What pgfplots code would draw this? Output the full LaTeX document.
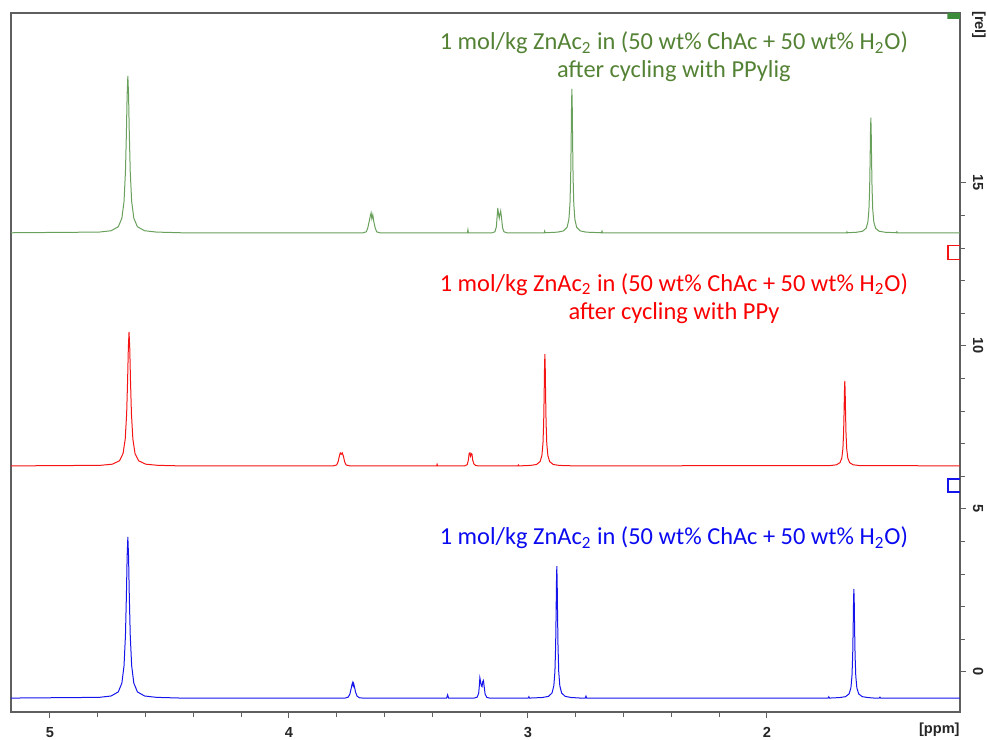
\documentclass[border=0pt]{standalone}
\usepackage{fontspec}
\setmainfont{Carlito}
\newfontfamily\tickfont{Liberation Sans}
\usepackage{pgfplots}
\pgfplotsset{compat=1.18}

\definecolor{spgreen}{RGB}{104,160,92}
\definecolor{txtgreen}{RGB}{84,130,53}
\definecolor{spred}{RGB}{245,20,20}
\definecolor{txtred}{RGB}{250,0,0}
\definecolor{spblue}{RGB}{20,20,235}
\definecolor{txtblue}{RGB}{10,10,240}
\definecolor{axgray}{RGB}{95,95,95}
\definecolor{mkgreen}{RGB}{60,140,60}

\begin{document}
\begin{tikzpicture}
\useasboundingbox (-5.5pt,-14pt) rectangle (488pt,356pt);
\begin{axis}[
  name=ax,
  at={(0,0)}, anchor=south west,
  scale only axis, width=474.5pt, height=349.5pt,
  x dir=reverse,
  xmin=1.192, xmax=5.163, ymin=-1.227, ymax=20.21,
  xtick={2,3,4,5}, ytick={0,5,10,15},
  minor x tick num=4, minor y tick num=4,
  xtick pos=left, ytick pos=right, yticklabel pos=right,
  tick align=outside,
  major tick length=3pt, minor tick length=2.5pt,
  axis line style={axgray, line width=0.6pt},
  tick style={axgray, line width=0.5pt},
  ticklabel style={font=\tickfont\bfseries\fontsize{7.3}{8}\selectfont, text=black!85},
  xticklabel style={yshift=-1pt},
  /pgf/number format/assume math mode=true,
  yticklabel style={rotate=-90, anchor=south},
  every axis plot/.append style={line width=0.5pt},
]

% 1 mol/kg ZnAc2 in (50 wt% ChAc + 50 wt% H2O)
\addplot[spblue] coordinates {
(5.165,-0.80)
(4.794,-0.778) (4.744,-0.736) (4.714,-0.610) (4.699,-0.341) (4.690,0.188) (4.684,1.127)
(4.680,2.362) (4.677,3.532) (4.674,4.14) (4.671,3.532) (4.668,2.362) (4.664,1.127)
(4.658,0.188) (4.649,-0.341) (4.634,-0.610) (4.604,-0.736) (4.554,-0.778)
(4.45,-0.80)
(3.765,-0.80) (3.752,-0.77) (3.745,-0.68) (3.740,-0.52) (3.736,-0.38) (3.733,-0.32)
(3.731,-0.42) (3.729,-0.36) (3.726,-0.45) (3.721,-0.62) (3.715,-0.74) (3.705,-0.79) (3.690,-0.80)
(3.340,-0.80) (3.336,-0.70) (3.332,-0.80)
(3.225,-0.80) (3.212,-0.77) (3.206,-0.65) (3.203,-0.40) (3.201,-0.18) (3.198,-0.30)
(3.195,-0.42) (3.192,-0.45) (3.189,-0.30) (3.186,-0.26) (3.183,-0.45) (3.179,-0.68)
(3.172,-0.78) (3.160,-0.80)
(2.999,-0.80) (2.996,-0.76) (2.993,-0.80)
(2.939,-0.782) (2.914,-0.748) (2.899,-0.644) (2.8915,-0.423) (2.887,0.01) (2.884,0.78)
(2.882,1.79) (2.8805,2.75) (2.879,3.25) (2.8775,2.75) (2.876,1.79) (2.874,0.78)
(2.871,0.01) (2.8665,-0.423) (2.859,-0.644) (2.844,-0.748) (2.819,-0.782)
(2.78,-0.80) (2.760,-0.80) (2.757,-0.74) (2.754,-0.80)
(1.744,-0.80) (1.741,-0.76) (1.738,-0.80)
(1.696,-0.785) (1.671,-0.757) (1.656,-0.671) (1.6485,-0.488) (1.644,-0.13) (1.641,0.507)
(1.639,1.344) (1.6375,2.138) (1.636,2.55) (1.6345,2.138) (1.633,1.344) (1.631,0.507)
(1.628,-0.13) (1.6235,-0.488) (1.616,-0.671) (1.601,-0.757) (1.576,-0.785)
(1.55,-0.80) (1.530,-0.80) (1.527,-0.77) (1.524,-0.80)
(1.192,-0.80)
};

% after cycling with PPy
\addplot[spred] coordinates {
(5.165,6.32)
(4.789,6.338) (4.739,6.373) (4.709,6.478) (4.694,6.702) (4.685,7.142) (4.679,7.923)
(4.675,8.950) (4.672,9.924) (4.669,10.43) (4.666,9.924) (4.663,8.950) (4.659,7.923)
(4.653,7.142) (4.644,6.702) (4.629,6.478) (4.599,6.373) (4.549,6.338)
(4.45,6.32)
(3.815,6.32) (3.800,6.35) (3.794,6.45) (3.789,6.62) (3.785,6.72) (3.781,6.68)
(3.777,6.72) (3.772,6.62) (3.767,6.45) (3.761,6.35) (3.745,6.32)
(3.382,6.32) (3.380,6.37) (3.378,6.32)
(3.265,6.32) (3.254,6.36) (3.249,6.50) (3.246,6.70) (3.243,6.72) (3.240,6.62)
(3.237,6.70) (3.234,6.68) (3.231,6.50) (3.226,6.38) (3.218,6.33) (3.205,6.32)
(3.042,6.32) (3.040,6.35) (3.038,6.32)
(2.989,6.335) (2.964,6.364) (2.949,6.452) (2.9415,6.639) (2.937,7.006) (2.934,7.658)
(2.932,8.515) (2.9305,9.328) (2.929,9.75) (2.9275,9.328) (2.926,8.515) (2.924,7.658)
(2.921,7.006) (2.9165,6.639) (2.909,6.452) (2.894,6.364) (2.869,6.335)
(2.80,6.32)
(1.734,6.332) (1.709,6.354) (1.694,6.421) (1.6865,6.563) (1.682,6.842) (1.679,7.338)
(1.677,7.990) (1.6755,8.609) (1.674,8.93) (1.6725,8.609) (1.671,7.990) (1.669,7.338)
(1.666,6.842) (1.6615,6.563) (1.654,6.421) (1.639,6.354) (1.614,6.332)
(1.192,6.32)
};

% after cycling with PPylig
\addplot[spgreen] coordinates {
(5.165,13.47)
(4.794,13.491) (4.744,13.532) (4.714,13.655) (4.699,13.917) (4.690,14.432) (4.684,15.346)
(4.680,16.548) (4.677,17.688) (4.674,18.28) (4.671,17.688) (4.668,16.548) (4.664,15.346)
(4.658,14.432) (4.649,13.917) (4.634,13.655) (4.604,13.532) (4.554,13.491)
(4.45,13.47)
(3.690,13.47) (3.676,13.50) (3.670,13.62) (3.664,13.82) (3.659,14.00) (3.656,14.08)
(3.653,13.90) (3.649,14.02) (3.645,13.82) (3.639,13.62) (3.633,13.50) (3.620,13.47)
(3.253,13.47) (3.251,13.56) (3.249,13.47)
(3.150,13.47) (3.138,13.50) (3.132,13.65) (3.129,13.95) (3.126,14.23) (3.123,14.05)
(3.120,13.92) (3.117,14.05) (3.114,14.14) (3.110,13.90) (3.106,13.62) (3.100,13.50) (3.088,13.47)
(2.932,13.47) (2.930,13.52) (2.928,13.47)
(2.876,13.489) (2.851,13.527) (2.836,13.640) (2.8285,13.880) (2.824,14.352) (2.821,15.190)
(2.819,16.292) (2.8175,17.338) (2.816,17.88) (2.8145,17.338) (2.813,16.292) (2.811,15.190)
(2.808,14.352) (2.8035,13.880) (2.796,13.640) (2.781,13.527) (2.756,13.489)
(2.692,13.47) (2.690,13.52) (2.688,13.47)
(1.667,13.47) (1.665,13.50) (1.663,13.47)
(1.625,13.486) (1.600,13.516) (1.585,13.606) (1.5775,13.798) (1.573,14.176) (1.570,14.847)
(1.568,15.729) (1.5665,16.566) (1.565,17.00) (1.5635,16.566) (1.562,15.729) (1.560,14.847)
(1.557,14.176) (1.5525,13.798) (1.545,13.606) (1.530,13.516) (1.505,13.486)
(1.458,13.47) (1.456,13.50) (1.454,13.47)
(1.192,13.47)
};

% scaling markers at the right edge
\addplot[spblue, line width=0.6pt] coordinates {(1.192,5.92) (1.242,5.92) (1.242,5.52) (1.192,5.52)};
\addplot[spred, line width=0.6pt] coordinates {(1.192,13.07) (1.242,13.07) (1.242,12.64) (1.192,12.64)};
\addplot[fill=mkgreen, draw=none] coordinates {(1.192,20.21) (1.245,20.21) (1.245,20.03) (1.192,20.03) (1.192,20.21)};

% spectrum captions
\node[text=txtgreen, align=center, font=\fontsize{12.2}{14}\selectfont]
  at (axis cs:2.389,18.87)
  {1 mol/kg ZnAc\textsubscript{2} in (50 wt\% ChAc + 50 wt\% H\textsubscript{2}O)\\after cycling with PPylig};
\node[text=txtred, align=center, font=\fontsize{12.2}{14}\selectfont]
  at (axis cs:2.389,11.46)
  {1 mol/kg ZnAc\textsubscript{2} in (50 wt\% ChAc + 50 wt\% H\textsubscript{2}O)\\after cycling with PPy};
\node[text=txtblue, align=center, font=\fontsize{12.2}{14}\selectfont]
  at (axis cs:2.389,4.11)
  {1 mol/kg ZnAc\textsubscript{2} in (50 wt\% ChAc + 50 wt\% H\textsubscript{2}O)};
\end{axis}

% unit labels
\node[anchor=east, inner sep=0pt, text=black!85, font=\tickfont\bfseries\fontsize{7.3}{8}\selectfont]
  at ([yshift=-8.8pt]ax.south east) {[ppm]};
\node[rotate=-90, inner sep=0pt, text=black!85, font=\tickfont\bfseries\fontsize{7.3}{8}\selectfont]
  at ([xshift=9.5pt,yshift=-6pt]ax.north east) {[rel]};
\end{tikzpicture}
\end{document}
